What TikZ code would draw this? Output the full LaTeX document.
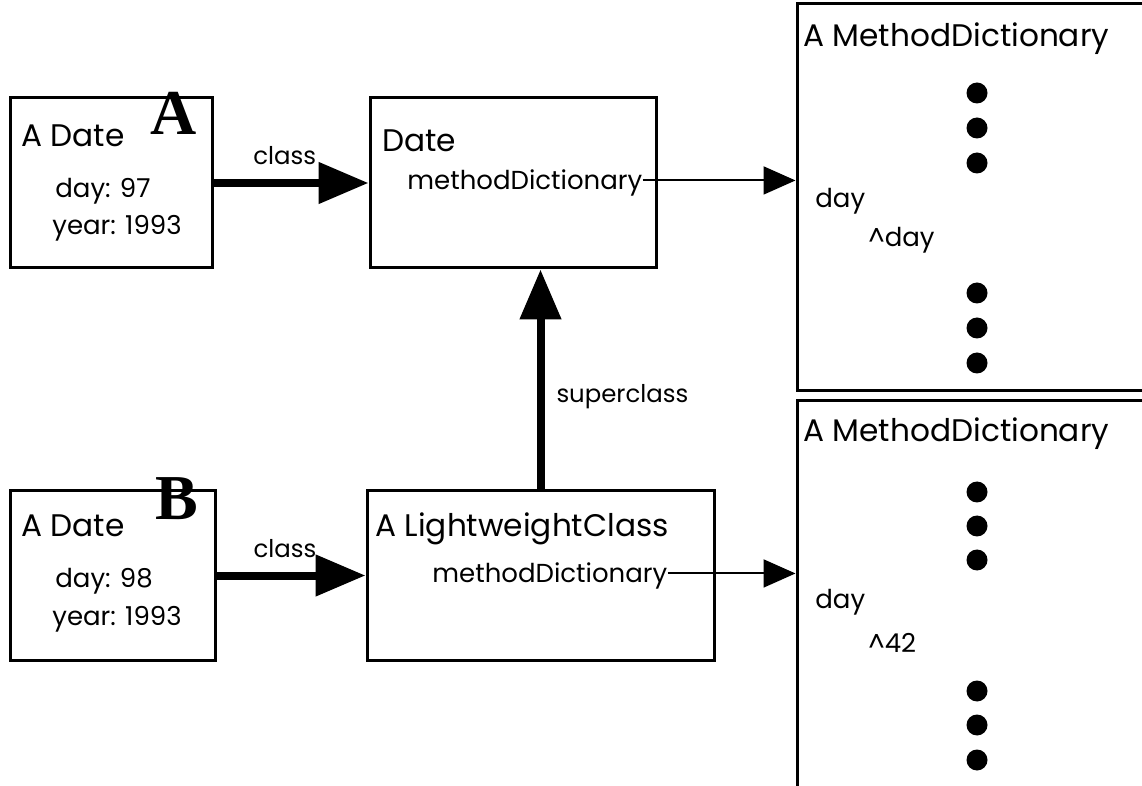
\documentclass[tikz,border=0pt]{standalone}
\usepackage{fontspec}
\setmainfont{Poppins}
\newfontfamily\tagfont{Liberation Serif}
\usetikzlibrary{arrows.meta}
\tikzset{
  obj/.style={draw,line width=1.5pt,rectangle,inner sep=0pt,minimum height=85pt},
  txt/.style={anchor=base west,inner sep=0pt},
  head/.style={txt,font=\fontsize{15.6}{17}\selectfont},
  slot/.style={txt,font=\fontsize{13}{15}\selectfont},
  lbl/.style={inner sep=0pt,font=\fontsize{12.2}{14}\selectfont},
  tag/.style={txt,font=\tagfont\bfseries\fontsize{32}{32}\selectfont},
  dot/.style={circle,fill=black,minimum size=10.5pt,inner sep=0pt},
  ptr/.style={line width=4pt,-{Triangle[length=25pt,width=20pt]}},
  ref/.style={line width=1pt,-{Triangle[length=16pt,width=14pt]}},
}
\begin{document}
\begin{tikzpicture}[x=0.5pt,y=-0.5pt]
  \clip (0,0) rectangle (1142,786);
  % ---- boxes ----
  \node[obj,minimum width=101pt]   (dateA)   at (111,183)     {};
  \node[obj,minimum width=143pt]   (dateCls) at (513,183)     {};
  \node[obj,minimum width=102.5pt] (dateB)   at (112.5,575.5) {};
  \node[obj,minimum width=173.5pt] (lwc)     at (540.5,575.5) {};
  \node[obj,minimum width=181.5pt,minimum height=193.5pt] (mdTop) at (978.5,197.5) {};
  \node[obj,minimum width=181.5pt,minimum height=209.5pt] (mdBot) at (978.5,610.5) {};

  % ---- instance A ----
  \node[head] (aDateA) at (21,147) {A Date};
  \node[slot] (dayA)   at (55,198) {day: 97};
  \node[slot] (yearA)  at (52,235) {year: 1993};
  \node[tag]  (tagA)   at (150,135) {A};

  % ---- instance B ----
  \node[head] (aDateB) at (21,537) {A Date};
  \node[slot] (dayB)   at (55,588) {day: 98};
  \node[slot] (yearB)  at (52,625) {year: 1993};
  \node[tag]  (tagB)   at (155,520) {B};

  % ---- classes ----
  \node[head] (clsName) at (382,152) {Date};
  \node[slot] (mdA)     at (407,190) {methodDictionary};
  \node[head] (lwcName) at (375,537) {A LightweightClass};
  \node[slot] (mdB)     at (432,582) {methodDictionary};

  % ---- method dictionaries ----
  \node[head] (mdTopName) at (803,47)  {A MethodDictionary};
  \node[slot] (selA)      at (815,208) {day};
  \node[slot] (codeA)     at (868,247) {\textasciicircum day};
  \node[head] (mdBotName) at (803,442) {A MethodDictionary};
  \node[slot] (selB)      at (815,608) {day};
  \node[slot] (codeB)     at (868,652) {\textasciicircum 42};
  \foreach \y [count=\i] in {93,128,163,293,328,363,492,526,560,691,725,760}
    \node[dot] (d\i) at (977,\y) {};

  % ---- pointers ----
  \draw[ptr] (dateA) -- (dateCls) node[lbl,pos=0.46,above=7pt] (clsA) {class};
  \draw[ptr] (dateB) -- (lwc) node[lbl,pos=0.46,above=7pt] (clsB) {class};
  \draw[ptr] (lwc.north) -- (lwc.north |- dateCls.south)
    node[lbl,pos=0.42,right=6pt] (supLbl) {superclass};
  \draw[ref] ([yshift=1.5pt]mdA.east) -- ([yshift=1.5pt]mdA.east -| mdTop.west);
  \draw[ref] ([yshift=1pt]mdB.east) -- ([yshift=1pt]mdB.east -| mdBot.west);
\end{tikzpicture}
\end{document}
